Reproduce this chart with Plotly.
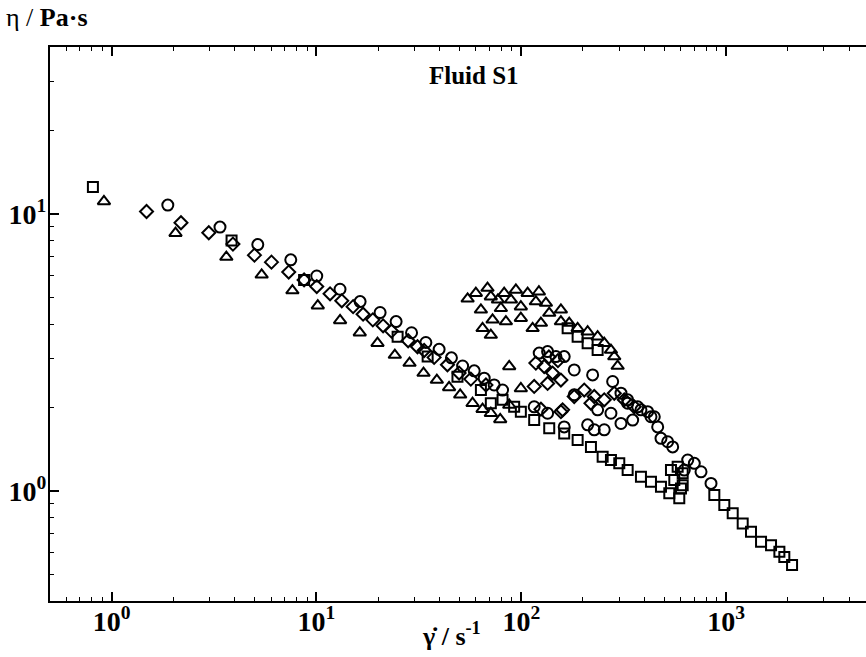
import numpy as np
import plotly.graph_objects as go

# ---- data (shear rate [1/s], viscosity [Pa s]) ----
sq_x = [0.81, 3.85, 8.70, 24.9, 34.9, 48.8, 63.5, 71.0, 81.0, 92.3, 99.5, 115.6, 136.9, 162.0,
        188.4, 218.8, 249.6, 274, 300.9, 330.6, 383.9, 429.7, 480.8, 528, 590.7,
        602, 558.5, 538, 580, 613.8, 613.8,
        876, 980, 1077, 1205, 1323, 1481, 1657, 1820, 1924, 2099,
        168.4, 188.4, 210.8, 235.9]
sq_y = [12.5, 8.01, 5.77, 3.60, 3.05, 2.58, 2.31, 2.07, 2.13, 2.01, 1.93, 1.80, 1.68, 1.61,
        1.525, 1.44, 1.327, 1.291, 1.256, 1.188, 1.124, 1.078, 1.034, 0.979, 0.939,
        1.02, 1.093, 1.188, 1.221, 1.156, 1.048,
        0.965, 0.888, 0.829, 0.762, 0.711, 0.654, 0.636, 0.602, 0.577, 0.539,
        3.86, 3.60, 3.41, 3.22]

tri_x = [0.917, 2.05, 3.63, 5.40, 7.63, 10.15, 13.04, 16.27, 19.86, 24.13, 28.47, 33.32, 38.7,
         44.4, 50.3, 57.8, 64.7, 71.0, 78.9, 87.3, 99.5, 87.3,
         54.7, 60.0, 68.4, 71.0, 82.5, 89.0, 107.4, 117.8, 131.9, 63.5, 72.4, 64.7, 71.0, 84.1,
         99.5, 113.6, 124.7, 79.5, 99.5, 136.9, 156.1, 156.1, 171.4, 188.4, 210.8, 235.9,
         254.1, 274, 284.4, 295.4, 94.1, 121.9, 76.9]
tri_y = [11.08, 8.51, 6.98, 6.02, 5.28, 4.66, 4.12, 3.72, 3.41, 3.09, 2.89, 2.66, 2.51,
         2.36, 2.22, 2.07, 1.97, 1.905, 1.81, 2.04, 2.34, 2.81,
         4.93, 5.17, 5.39, 5.02, 5.17, 4.89, 5.17, 4.82, 4.76, 4.50, 4.14, 3.86, 3.65, 4.08,
         4.20, 3.86, 4.03, 4.56, 4.62, 4.38, 4.50, 4.08, 4.03, 3.86, 3.75, 3.60,
         3.41, 3.22, 3.05, 2.82, 5.31, 5.23, 4.89]

dia_x = [1.48, 2.18, 2.98, 3.91, 4.98, 6.03, 7.32, 8.70, 10.03, 11.65, 13.29, 15.10, 16.89,
         18.84, 21.15, 23.25, 28.03, 31.14, 33.55, 37.54, 43.6, 49.7, 56.7, 67.2,
         117.8, 129.4, 142.2, 156.1, 134.4, 115.6, 181.3, 202.9, 227.1, 254.1, 284.4,
         318.3, 356.1, 156.1, 218.8, 159.1, 124.7, 136.4, 151.0]
dia_y = [10.19, 9.28, 8.54, 7.77, 7.09, 6.69, 6.16, 5.77, 5.46, 5.14, 4.85, 4.62, 4.34,
         4.14, 3.94, 3.77, 3.48, 3.31, 3.21, 3.03, 2.85, 2.66, 2.53, 2.41,
         2.89, 2.81, 2.66, 2.51, 2.44, 2.38, 2.19, 2.31, 2.19, 2.13, 2.25,
         2.13, 2.01, 1.93, 2.07, 1.96, 1.97, 3.04, 2.95]

cir_x = [1.88, 3.38, 5.17, 7.49, 10.03, 13.03, 16.33, 20.45, 24.48, 29.12, 34.2, 39.7, 45.6,
         51.7, 58.9, 65.9, 73.7, 81.0, 115.6, 134.4, 162.0, 210.8,
         122.3, 134.4, 147.6, 162.0, 181.3, 223.0, 279.3, 306.7, 330.6, 370.1, 414.0, 446.0,
         181.3, 235.9, 274, 330.6, 383.9, 429.7, 463.4, 480.8, 518.4, 548.4,
         227.1, 254.1, 306.7, 349.8,
         649.4, 699.4, 754.2, 843.9, 625.0]
cir_y = [10.75, 8.95, 7.74, 6.82, 5.96, 5.34, 4.82, 4.40, 4.08, 3.72, 3.43, 3.24, 3.02,
         2.82, 2.71, 2.55, 2.41, 2.31, 2.01, 1.905, 1.70, 1.73,
         3.14, 3.18, 3.05, 3.05, 2.73, 2.62, 2.48, 2.25, 2.13, 2.01, 1.93, 1.85,
         2.22, 1.96, 1.905, 2.07, 1.96, 1.85, 1.70, 1.546, 1.503, 1.44,
         1.66, 1.66, 1.75, 1.80,
         1.291, 1.256, 1.171, 1.063, 1.188]

x_major = [1, 10, 100, 1000]
x_major_text = ["10<sup>0</sup>", "10<sup>1</sup>", "10<sup>2</sup>", "10<sup>3</sup>"]
y_major = [1, 10]
y_major_text = ["10<sup>0</sup>", "10<sup>1</sup>"]

FONT = "Liberation Serif"

x_minor = [m * 10.0 ** e for e in range(-1, 4) for m in range(2, 10)]
y_minor = [m * 10.0 ** e for e in range(-1, 2) for m in range(2, 10)]

fig = go.Figure()
mk = dict(color="black", line=dict(color="black", width=2))
fig.add_trace(go.Scatter(x=sq_x, y=sq_y, mode="markers",
                         marker=dict(symbol="square-open", size=10, **mk)))
fig.add_trace(go.Scatter(x=tri_x, y=tri_y, mode="markers",
                         marker=dict(symbol="triangle-up-open", size=11, **mk)))
fig.add_trace(go.Scatter(x=dia_x, y=dia_y, mode="markers",
                         marker=dict(symbol="diamond-open", size=10, **mk)))
fig.add_trace(go.Scatter(x=cir_x, y=cir_y, mode="markers",
                         marker=dict(symbol="circle-open", size=11, **mk)))

axis_common = dict(showline=True, linecolor="black", linewidth=2, showgrid=False,
                   zeroline=False, ticks="inside", ticklen=9, tickwidth=1.5,
                   tickcolor="black",
                   tickfont=dict(family=FONT, size=28, color="black", weight="bold"))

fig.update_xaxes(type="log", range=[np.log10(0.5), 3.683], tickmode="array",
                 tickvals=x_major, ticktext=x_major_text, mirror="ticks",
                 ticklabelstandoff=-6,
                 minor=dict(ticks="inside", ticklen=4, tickwidth=1, tickcolor="black",
                            tickmode="array", tickvals=x_minor),
                 **axis_common)
fig.update_yaxes(type="log", range=[np.log10(0.4), np.log10(40)], tickmode="array",
                 tickvals=y_major, ticktext=y_major_text, ticklabelstandoff=-4,
                 minor=dict(ticks="inside", ticklen=4, tickwidth=1, tickcolor="black",
                            tickmode="array", tickvals=y_minor),
                 **axis_common)

fig.add_annotation(text="<b>Fluid S1</b>", xref="paper", yref="paper",
                   x=0.5196, y=(601 - 75) / 554, yanchor="middle", showarrow=False,
                   font=dict(family=FONT, size=25, color="black"))
fig.add_annotation(text="η / <b>Pa·s</b>", xref="paper", yref="paper",
                   x=-0.056, y=(601 - 18) / 554, xanchor="left", yanchor="middle",
                   showarrow=False, font=dict(family=FONT, size=26, color="black"))
fig.add_annotation(text="<b>γ̇ / s<sup>-1</sup></b>", xref="paper", yref="paper",
                   x=0.4926, y=(601 - 634) / 554, yanchor="middle", showarrow=False,
                   font=dict(family=FONT, size=26, color="black"))

fig.update_layout(width=866, height=657, showlegend=False,
                  margin=dict(l=50, r=0, t=47, b=56),
                  plot_bgcolor="white", paper_bgcolor="white")

fig.write_html("out.html")
